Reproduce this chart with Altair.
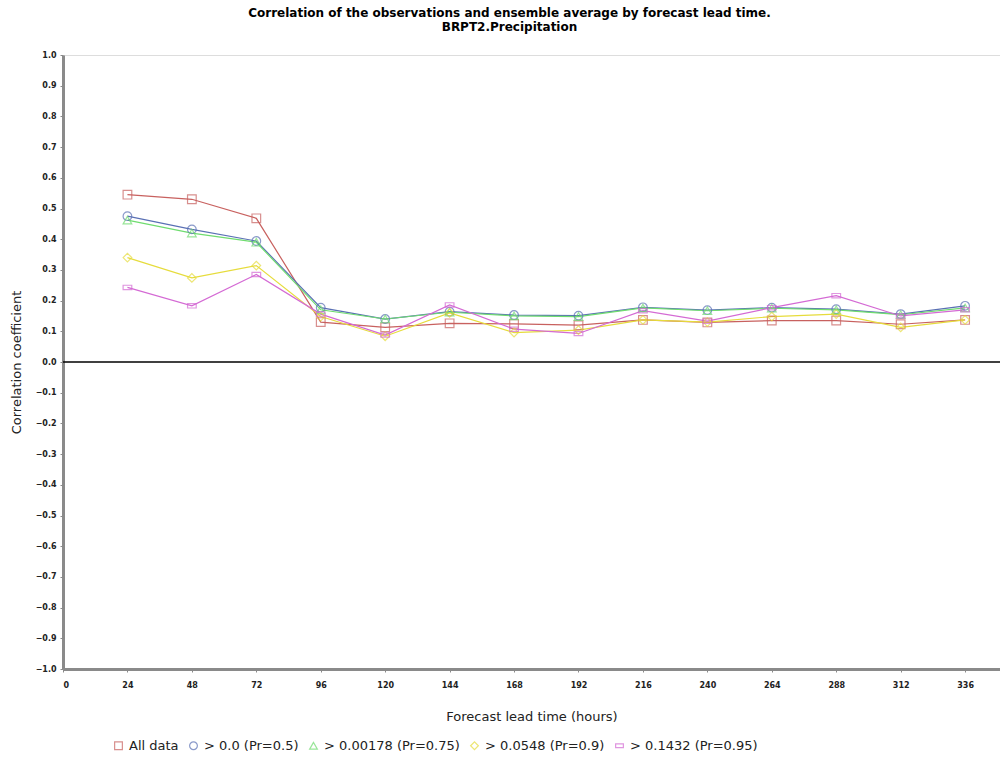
import altair as alt
import pandas as pd

lead_hours = [24, 48, 72, 96, 120, 144, 168, 192, 216, 240, 264, 288, 312, 336]

series_names = [
    "All data",
    "> 0.0 (Pr=0.5)",
    "> 0.00178 (Pr=0.75)",
    "> 0.0548 (Pr=0.9)",
    "> 0.1432 (Pr=0.95)",
]

all_data = [0.545, 0.530, 0.468, 0.130, 0.113, 0.126, 0.124, 0.120, 0.137, 0.129, 0.135, 0.135, 0.123, 0.137]
gt_0_0 = [0.475, 0.432, 0.394, 0.177, 0.140, 0.164, 0.153, 0.151, 0.178, 0.169, 0.177, 0.172, 0.156, 0.183]
gt_0_00178 = [0.462, 0.420, 0.390, 0.170, 0.140, 0.162, 0.150, 0.148, 0.176, 0.167, 0.175, 0.170, 0.154, 0.176]
gt_0_0548 = [0.340, 0.274, 0.314, 0.148, 0.084, 0.160, 0.096, 0.104, 0.137, 0.130, 0.148, 0.156, 0.113, 0.137]
gt_0_1432 = [0.243, 0.183, 0.285, 0.156, 0.088, 0.186, 0.107, 0.093, 0.167, 0.133, 0.177, 0.216, 0.150, 0.170]

series_values = [all_data, gt_0_0, gt_0_00178, gt_0_0548, gt_0_1432]
series_colors = ["#c8615f", "#5a70b4", "#6fdc6f", "#e6dc3c", "#d46ad4"]
series_shapes = ["square", "circle", "triangle-up", "diamond", "M-1,-0.5H1V0.5H-1Z"]

x_ticks = [0, 24, 48, 72, 96, 120, 144, 168, 192, 216, 240, 264, 288, 312, 336]
y_ticks = [1.0, 0.9, 0.8, 0.7, 0.6, 0.5, 0.4, 0.3, 0.2, 0.1, 0.0,
           -0.1, -0.2, -0.3, -0.4, -0.5, -0.6, -0.7, -0.8, -0.9, -1.0]

rows = []
for name, vals in zip(series_names, series_values):
    for h, v in zip(lead_hours, vals):
        rows.append({"series": name, "hours": h, "corr": v})
df = pd.DataFrame(rows)

label_font = "DejaVu Sans"

x_axis = alt.Axis(
    values=x_ticks, format="d", title="Forecast lead time (hours)",
    grid=False, domainColor="#8a8a8a", domainWidth=3, tickColor="#8a8a8a",
    tickSize=3, labelFontSize=8, labelFontWeight="bold", labelFont=label_font,
    labelColor="#222222", titleFont=label_font, titleFontSize=13,
    titleFontWeight="normal", titleColor="#222222", labelPadding=9, titlePadding=21,
    labelOverlap=False,
)
y_axis = alt.Axis(
    values=y_ticks, tickCount=21, format=".1f", title="Correlation coefficient",
    grid=False, domainColor="#8a8a8a", domainWidth=3, tickColor="#8a8a8a",
    tickSize=3, labelFontSize=8, labelFontWeight="bold", labelFont=label_font,
    labelColor="#222222", titleFont=label_font, titleFontSize=13,
    titleFontWeight="normal", titleColor="#222222", labelPadding=4, titlePadding=12,
    labelOverlap=False,
)
x_scale = alt.Scale(domain=[0, 349], nice=False, zero=False)
y_scale = alt.Scale(domain=[-1.0, 1.0], nice=False)

color_enc = alt.Color(
    "series:N",
    scale=alt.Scale(domain=series_names, range=series_colors),
    sort=series_names,
    legend=alt.Legend(
        title=None, orient="none", direction="horizontal", legendX=49, legendY=684,
        labelFont=label_font, labelFontSize=13, labelColor="#222222",
        symbolStrokeWidth=1.2, symbolSize=60, symbolFillColor="white",
        columnPadding=8, labelOffset=4, columns=5,
    ),
)
shape_enc = alt.Shape(
    "series:N",
    scale=alt.Scale(domain=series_names, range=series_shapes),
    sort=series_names,
)

lines = alt.Chart(df).mark_line(strokeWidth=1.2).encode(
    x=alt.X("hours:Q", scale=x_scale, axis=x_axis),
    y=alt.Y("corr:Q", scale=y_scale, axis=y_axis),
    color=color_enc, detail="series:N",
)
points = alt.Chart(df).mark_point(filled=False, size=75, strokeWidth=1.2).encode(
    x=alt.X("hours:Q", scale=x_scale, axis=x_axis),
    y=alt.Y("corr:Q", scale=y_scale, axis=y_axis),
    color=color_enc, shape=shape_enc,
)
zero_line = alt.Chart(pd.DataFrame({"corr": [0.0]})).mark_rule(color="black", strokeWidth=1.5).encode(
    y=alt.Y("corr:Q", scale=y_scale, axis=y_axis)
)

chart = alt.layer(lines, zero_line, points).properties(
    width=937,
    height=614,
    title=alt.TitleParams(
        text=["Correlation of the observations and ensemble average by forecast lead time.", "BRPT2.Precipitation"],
        font=label_font, fontSize=12, fontWeight="bold", color="black",
        anchor="middle", dx=-22, offset=17, lineHeight=14,
    ),
    autosize=alt.AutoSizeParams(type="none"),
    padding={"left": 63, "top": 55, "right": 0, "bottom": 94},
).configure_view(stroke=None).configure(background="white")

chart.save("out.html", embed_options={"renderer": "svg", "actions": False})
